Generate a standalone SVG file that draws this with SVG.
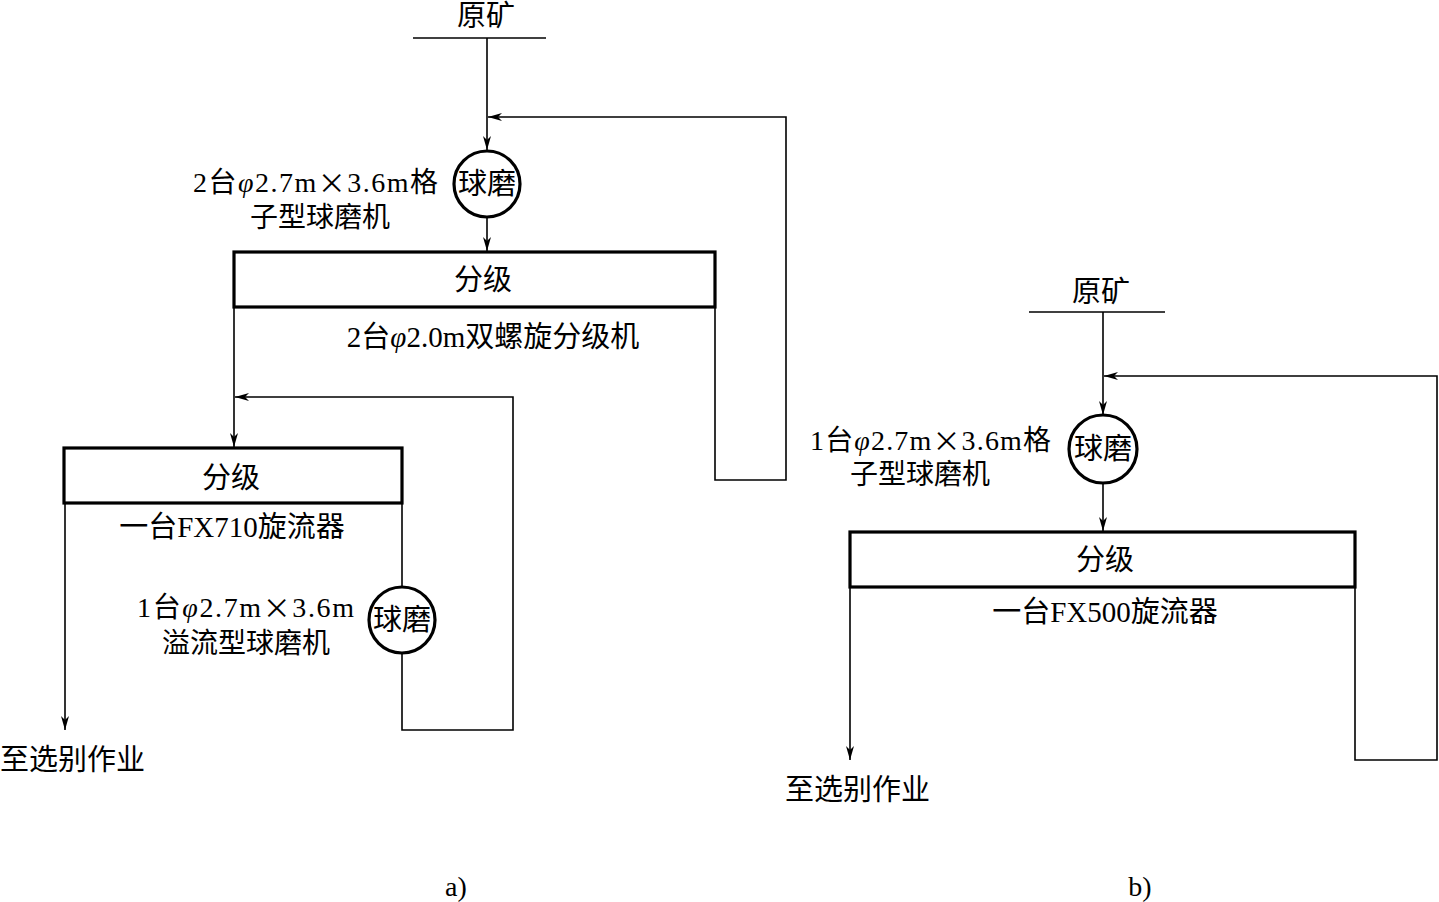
<svg xmlns="http://www.w3.org/2000/svg" width="1439" height="902" viewBox="0 0 1439 902">
<style>
.ln{fill:none;stroke:#000;stroke-width:1.6}
.bx{fill:#fff;stroke:#000;stroke-width:3.2}
.t{font-family:"Liberation Serif","Noto Sans CJK SC",serif;font-size:29px;fill:#000;dominant-baseline:central}
.s{font-size:28px}
.c{text-anchor:middle}
.cj{font-family:"Noto Sans CJK SC",sans-serif}
.ph{font-style:italic}
</style>
<defs>
<marker id="ar" markerUnits="userSpaceOnUse" markerWidth="16" markerHeight="10" refX="14" refY="5" orient="auto" overflow="visible">
<path d="M0,1 L14,5 L0,9 L4,5 Z" fill="#000"/>
</marker>
</defs>
<rect width="1439" height="902" fill="#fff"/>
<g id="connectors">
<line class="ln" x1="413" y1="38" x2="546" y2="38"/>
<line class="ln" x1="487" y1="38" x2="487" y2="150" marker-end="url(#ar)"/>
<path class="ln" d="M715,307 V480 H786 V117 H488" marker-end="url(#ar)"/>
<line class="ln" x1="487" y1="218" x2="487" y2="251" marker-end="url(#ar)"/>
<line class="ln" x1="234" y1="307" x2="234" y2="447" marker-end="url(#ar)"/>
<path class="ln" d="M402,653 V730 H513 V397 H235" marker-end="url(#ar)"/>
<line class="ln" x1="402" y1="503" x2="402" y2="587"/>
<line class="ln" x1="65" y1="503" x2="65" y2="730" marker-end="url(#ar)"/>
<line class="ln" x1="1029" y1="312" x2="1165" y2="312"/>
<line class="ln" x1="1103" y1="312" x2="1103" y2="415" marker-end="url(#ar)"/>
<path class="ln" d="M1355,587 V760 H1437 V376 H1104" marker-end="url(#ar)"/>
<line class="ln" x1="1103" y1="484" x2="1103" y2="531" marker-end="url(#ar)"/>
<line class="ln" x1="850" y1="587" x2="850" y2="760" marker-end="url(#ar)"/>
</g>
<g id="feed-a"><text class="t c" x="486" y="16">原矿</text></g>
<g id="mill-a1">
<circle class="bx" cx="487" cy="184" r="33"/>
<text class="t c" x="487" y="184">球磨</text>
<text class="t s" x="193" y="182" textLength="245" lengthAdjust="spacing">2台<tspan class="ph">φ</tspan>2.7m<tspan class="cj">×</tspan>3.6m格</text>
<text class="t s" x="250" y="217">子型球磨机</text>
</g>
<g id="class-a1">
<rect class="bx" x="234" y="252" width="481" height="55"/>
<text class="t c" x="483" y="280">分级</text>
<text class="t c" x="493" y="337">2台<tspan class="ph">φ</tspan>2.0m双螺旋分级机</text>
</g>
<g id="class-a2">
<rect class="bx" x="64" y="448" width="338" height="55"/>
<text class="t c" x="231" y="478">分级</text>
<text class="t c" x="232" y="527">一台FX710旋流器</text>
</g>
<g id="mill-a2">
<circle class="bx" cx="402" cy="620" r="33"/>
<text class="t c" x="402" y="620">球磨</text>
<text class="t s" x="137" y="607" textLength="217" lengthAdjust="spacing">1台<tspan class="ph">φ</tspan>2.7m<tspan class="cj">×</tspan>3.6m</text>
<text class="t s c" x="246" y="643">溢流型球磨机</text>
</g>
<g id="out-a"><text class="t" x="0" y="760">至选别作业</text></g>
<g id="feed-b"><text class="t c" x="1101" y="292">原矿</text></g>
<g id="mill-b">
<circle class="bx" cx="1103" cy="449" r="34"/>
<text class="t c" x="1103" y="449">球磨</text>
<text class="t s" x="810" y="440" textLength="241" lengthAdjust="spacing">1台<tspan class="ph">φ</tspan>2.7m<tspan class="cj">×</tspan>3.6m格</text>
<text class="t s" x="850" y="474">子型球磨机</text>
</g>
<g id="class-b">
<rect class="bx" x="850" y="532" width="505" height="55"/>
<text class="t c" x="1105" y="560">分级</text>
<text class="t c" x="1105" y="612">一台FX500旋流器</text>
</g>
<g id="out-b"><text class="t" x="785" y="790">至选别作业</text></g>
<text class="t c" x="456" y="886" style="font-size:28px">a)</text>
<text class="t c" x="1140" y="886" style="font-size:28px">b)</text>
</svg>
